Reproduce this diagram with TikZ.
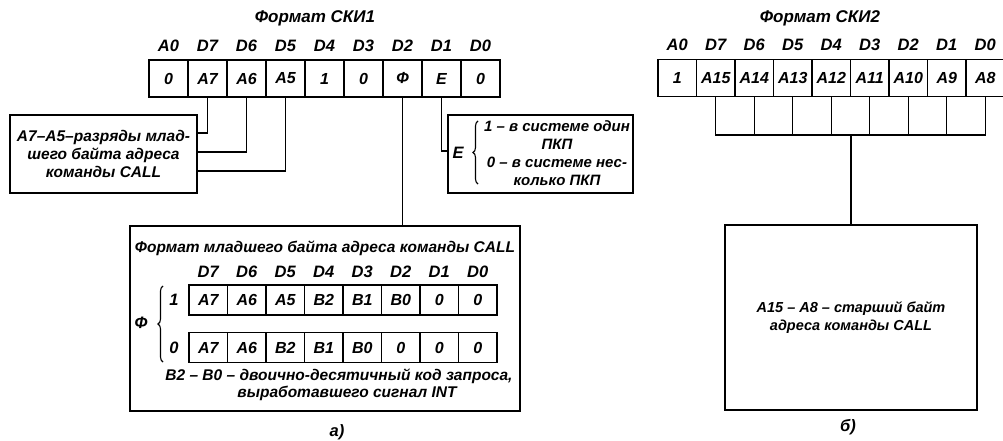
\documentclass[tikz,border=0pt]{standalone}
\usepackage{fontspec}
\setmainfont{Liberation Sans}
\usetikzlibrary{decorations.pathreplacing}

\begin{document}
\begin{tikzpicture}[x=1pt, y=-1pt,
  txt/.style={inner sep=0pt, font=\fontsize{15.5}{18}\selectfont\bfseries\itshape},
  ttl/.style={txt, font=\fontsize{17}{19}\selectfont\bfseries\itshape},
  hdr/.style={txt, font=\fontsize{16.5}{18}\selectfont\bfseries\itshape},
  bit/.style={draw, line width=1.4pt, minimum width=39pt, minimum height=37pt, inner sep=0pt, font=\fontsize{16}{18}\selectfont\bfseries\itshape},
  hbit/.style={bit, minimum width=38.5pt},
  fbit/.style={bit, minimum width=38.5pt, minimum height=30pt},
  note/.style={draw, line width=1.4pt, inner sep=0pt, align=center, font=\fontsize{15.5}{18}\selectfont\bfseries\itshape},
  wire/.style={line width=1.3pt},
  brc/.style={decorate, decoration={brace, amplitude=5pt}, line width=1.1pt}
]
\useasboundingbox (0,0) rectangle (1003,441);
% a) format SKI1
\node[ttl] (t1) at (315,18) {Формат СКИ1};
\node[hdr] (h1a) at (168.5,46) {A0};
\node[hdr] (h17) at (207.5,46) {D7};
\node[hdr] (h16) at (246.5,46) {D6};
\node[hdr] (h15) at (285.5,46) {D5};
\node[hdr] (h14) at (324.5,46) {D4};
\node[hdr] (h13) at (363.5,46) {D3};
\node[hdr] (h12) at (402.5,46) {D2};
\node[hdr] (h11) at (441.5,46) {D1};
\node[hdr] (h10) at (480.5,46) {D0};
\node[bit] (l0) at (168.5,78.5) {0};
\node[bit] (l7) at (207.5,78.5) {A7};
\node[bit] (l6) at (246.5,78.5) {A6};
\node[bit] (l5) at (285.5,78.5) {A5};
\node[bit] (l4) at (324.5,78.5) {1};
\node[bit] (l3) at (363.5,78.5) {0};
\node[bit] (lf) at (402.5,78.5) {Ф};
\node[bit] (le) at (441.5,78.5) {E};
\node[bit] (lz) at (480.5,78.5) {0};
\node[note, minimum width=187pt, minimum height=78pt] (lonote) at (103.5,154)
  {A7–A5–разряды млад-\\шего байта адреса\\команды CALL};
\node[note, minimum width=185pt, minimum height=78pt] (enote) at (540.5,154) {};
\node[hdr] (ebit) at (458,153) {E};
\draw[brc] (478,184) -- (478,121);
\node[txt, align=center, font=\fontsize{15}{18}\selectfont\bfseries\itshape] (etext) at (557,153)
  {1 – в системе один\\ПКП\\0 – в системе нес-\\колько ПКП};
\draw[wire] (l7.south) |- ([yshift=21pt]lonote.east);
\draw[wire] (l6.south) |- ([yshift=2pt]lonote.east);
\draw[wire] (l5.south) |- ([yshift=-17pt]lonote.east);
\draw[wire] (le.south) |- ([yshift=3pt]enote.west);
% low byte of the CALL address
\node[draw, line width=1.4pt, minimum width=390pt, minimum height=185pt] (lobyte) at (325,318.5) {};
\draw[wire] (lf.south) -- (lf.south |- lobyte.north);
\node[txt] (t3) at (325,248) {Формат младшего байта адреса команды CALL};
\node[hdr] (g7) at (208.25,272) {D7};
\node[hdr] (g6) at (246.75,272) {D6};
\node[hdr] (g5) at (285.25,272) {D5};
\node[hdr] (g4) at (323.75,272) {D4};
\node[hdr] (g3) at (362.25,272) {D3};
\node[hdr] (g2) at (400.75,272) {D2};
\node[hdr] (g1) at (439.25,272) {D1};
\node[hdr] (g0) at (477.75,272) {D0};
\node[fbit] (p7) at (208.25,300) {A7};
\node[fbit] (p6) at (246.75,300) {A6};
\node[fbit] (p5) at (285.25,300) {A5};
\node[fbit] (p4) at (323.75,300) {B2};
\node[fbit] (p3) at (362.25,300) {B1};
\node[fbit] (p2) at (400.75,300) {B0};
\node[fbit] (p1) at (439.25,300) {0};
\node[fbit] (p0) at (477.75,300) {0};
\node[fbit] (q7) at (208.25,347.5) {A7};
\node[fbit] (q6) at (246.75,347.5) {A6};
\node[fbit] (q5) at (285.25,347.5) {B2};
\node[fbit] (q4) at (323.75,347.5) {B1};
\node[fbit] (q3) at (362.25,347.5) {B0};
\node[fbit] (q2) at (400.75,347.5) {0};
\node[fbit] (q1) at (439.25,347.5) {0};
\node[fbit] (q0) at (477.75,347.5) {0};
\node[hdr] (phi) at (141,323) {Ф};
\draw[brc] (163,362) -- (163,286);
\node[hdr] (one) at (174,300) {1};
\node[hdr] (zero) at (174,348) {0};
\node[txt] (fn1) at (339,376) {B2 – B0 – двоично-десятичный код запроса,};
\node[txt] (fn2) at (347,393) {выработавшего сигнал INT};
\node[hdr] (capa) at (337,432) {а)};
% b) format SKI2
\node[ttl] (t2) at (820,18) {Формат СКИ2};
\node[hdr] (k1a) at (677.25,45) {A0};
\node[hdr] (k17) at (715.75,45) {D7};
\node[hdr] (k16) at (754.25,45) {D6};
\node[hdr] (k15) at (792.75,45) {D5};
\node[hdr] (k14) at (831.25,45) {D4};
\node[hdr] (k13) at (869.75,45) {D3};
\node[hdr] (k12) at (908.25,45) {D2};
\node[hdr] (k11) at (946.75,45) {D1};
\node[hdr] (k10) at (985.25,45) {D0};
\node[hbit] (r0) at (677.25,78) {1};
\node[hbit] (r1) at (715.75,78) {A15};
\node[hbit] (r2) at (754.25,78) {A14};
\node[hbit] (r3) at (792.75,78) {A13};
\node[hbit] (r4) at (831.25,78) {A12};
\node[hbit] (r5) at (869.75,78) {A11};
\node[hbit] (r6) at (908.25,78) {A10};
\node[hbit] (r7) at (946.75,78) {A9};
\node[hbit] (r8) at (985.25,78) {A8};
\node[note, minimum width=252pt, minimum height=185pt, font=\fontsize{14.5}{18}\selectfont\bfseries\itshape] (hibyte) at (851,317.5)
  {A15 – A8 – старший байт\\адреса команды CALL};
\coordinate (bus) at (851,135);
\draw[wire] (r1.south) |- (bus);
\draw[wire] (r2.south) |- (bus);
\draw[wire] (r3.south) |- (bus);
\draw[wire] (r4.south) |- (bus);
\draw[wire] (r5.south) |- (bus);
\draw[wire] (r6.south) |- (bus);
\draw[wire] (r7.south) |- (bus);
\draw[wire] (r8.south) |- (bus);
\draw[wire] (bus) -- (hibyte.north);
\node[hdr] (capb) at (848,427) {б)};
\end{tikzpicture}
\end{document}
